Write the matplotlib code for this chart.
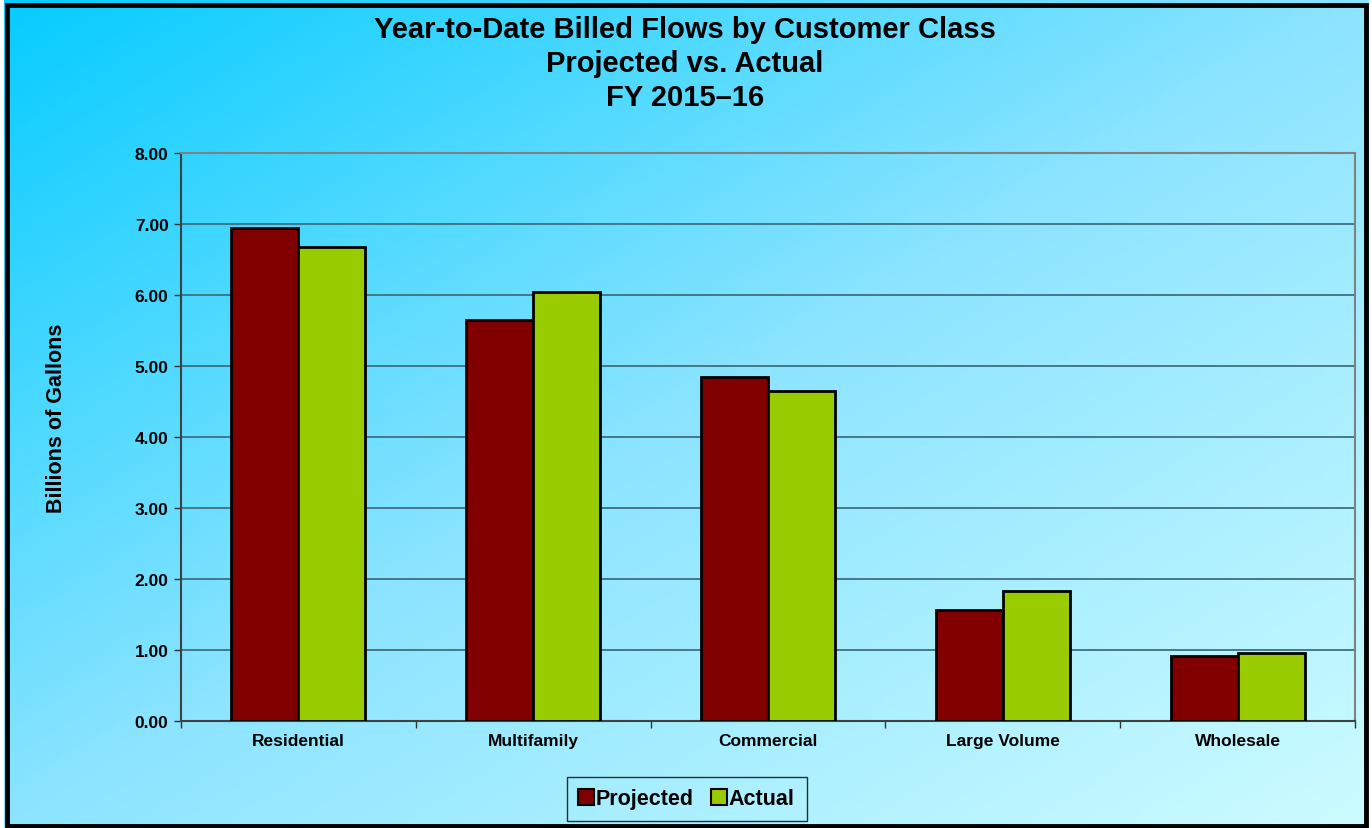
import numpy as np
import matplotlib
matplotlib.use("Agg")
import matplotlib.pyplot as plt
from matplotlib.patches import Rectangle
from matplotlib.lines import Line2D

categories = ["Residential", "Multifamily", "Commercial", "Large Volume", "Wholesale"]
projected = [6.95, 5.65, 4.85, 1.56, 0.92]
actual = [6.68, 6.04, 4.65, 1.83, 0.96]
yticks = [0, 1, 2, 3, 4, 5, 6, 7, 8]

PROJ, ACT = "#800000", "#99cc00"
GRID = "#3f6f7f"

plt.rcParams.update({"font.family": ["Liberation Sans", "DejaVu Sans"],
                     "font.weight": "bold"})

W, H = 1372, 829
fig = plt.figure(figsize=(W / 100, H / 100), dpi=100)

# diagonal gradient, corner to corner: deep cyan top-left -> pale cyan bottom-right
bg = fig.add_axes([0, 0, 1, 1], zorder=-10)
yy, xx = np.mgrid[0:1:200j, 0:1:300j]
t = (xx + yy) / 2
stops = np.array([0, 0.5, 1])
cols = np.array([[5, 204, 255], [140, 228, 255], [205, 252, 255]]) / 255
img = np.stack([np.interp(t, stops, cols[:, k]) for k in range(3)], axis=-1)
bg.imshow(img, extent=[0, 1, 0, 1], aspect="auto", origin="upper")
bg.axis("off")

# outer frame
fig.patches.append(Rectangle((7 / W, 2 / H), 1359 / W, 821 / H, transform=fig.transFigure,
                             fill=False, edgecolor="black", linewidth=3.5, zorder=5))
for r in [(0, 0, 4 / W, 1), (1369 / W, 0, 3 / W, 1)]:
    fig.patches.append(Rectangle(r[:2], r[2], r[3], transform=fig.transFigure,
                                 facecolor="white", edgecolor="none", zorder=4))

L, R, T, B = 181, 1355, 154, 722
ax = fig.add_axes([L / W, 1 - B / H, (R - L) / W, (B - T) / H])
ax.patch.set_alpha(0)

x = np.arange(len(categories))
w = 1 / 3.5
ax.bar(x - w / 2, projected, w, color=PROJ, edgecolor="black", linewidth=2, zorder=3)
ax.bar(x + w / 2, actual, w, color=ACT, edgecolor="black", linewidth=2, zorder=3)

ax.set_xlim(-0.5, len(categories) - 0.5)
ax.set_ylim(0, 8)
ax.set_yticks(yticks)
ax.set_yticklabels([f"{v:.2f}" for v in yticks], fontsize=12.5, fontweight="bold")
ax.yaxis.grid(True, color=GRID, linewidth=1.3, zorder=0)
ax.set_axisbelow(True)

ax.set_xticks(x)
ax.set_xticklabels(categories, fontsize=12.5, fontweight="bold")
ax.tick_params(axis="x", length=0, pad=9)
ax.set_xticks(np.arange(len(categories) + 1) - 0.5, minor=True)
ax.tick_params(axis="x", which="minor", length=5, width=1, color="#333333", direction="out")
ax.tick_params(axis="y", length=5, width=1, color="#333333", direction="out", pad=4)

for s in ["top", "right"]:
    ax.spines[s].set_color("#808080")
    ax.spines[s].set_linewidth(1.5)
for s in ["left", "bottom"]:
    ax.spines[s].set_color("#404040")
    ax.spines[s].set_linewidth(1.5)

fig.text(57 / W, 1 - 418 / H, "Billions of Gallons", rotation=90, fontsize=15.5,
         fontweight="bold", ha="center", va="center")

for txt, yb in [("Year-to-Date Billed Flows by Customer Class", 38),
                ("Projected vs. Actual", 72),
                ("FY 2015\u201316", 106)]:
    fig.text(685 / W, 1 - yb / H, txt, fontsize=21, fontweight="bold",
             ha="center", va="baseline")

handles = [Line2D([], [], marker="s", linestyle="none", markersize=11,
                  markerfacecolor=PROJ, markeredgecolor="black", markeredgewidth=1.5),
           Line2D([], [], marker="s", linestyle="none", markersize=11,
                  markerfacecolor=ACT, markeredgecolor="black", markeredgewidth=1.5)]
leg = fig.legend(handles, ["Projected", "Actual"], loc="center",
                 bbox_to_anchor=(687 / W, 1 - 800 / H), ncol=2, frameon=True,
                 fancybox=False, prop={"size": 15.5, "weight": "bold"},
                 handlelength=0.6, handletextpad=0.15, columnspacing=0.9,
                 borderpad=0.55)
leg.get_frame().set_edgecolor("black")
leg.get_frame().set_linewidth(1)
leg.get_frame().set_facecolor("none")

fig.savefig("out.png", dpi=100)
